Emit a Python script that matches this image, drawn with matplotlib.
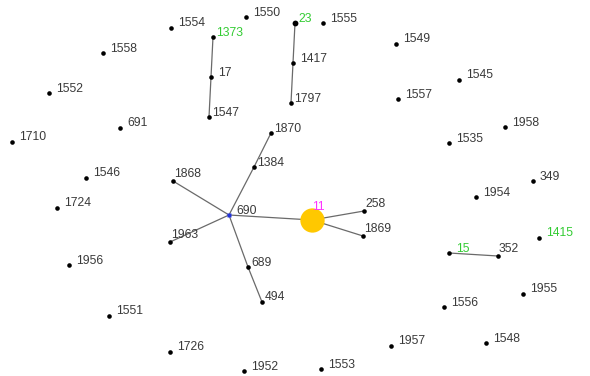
import matplotlib.pyplot as plt

# node layout (x, y in screen units, y grows downward)
nodes = ['1554', '1550', '1555', '1558', '1552', '691', '1710', '1546', '1724', '1956',
         '1551', '1726', '1952', '1553', '1957', '1548', '1556', '1955', '1415', '1954',
         '349', '1958', '1535', '1545', '1557', '1549',
         '1373', '17', '1547', '23', '1417', '1797',
         '690', '1868', '1963', '1384', '1870', '689', '494', '11', '258', '1869',
         '15', '352']
node_x = [171, 246, 323, 103, 49, 120, 12, 86, 57, 69,
          109, 170, 244, 321, 391, 486, 444, 523, 539, 476,
          533, 505, 449, 459, 398, 396,
          213, 211, 209, 295, 293, 291,
          229, 173, 170, 254, 271, 248, 262, 312, 364, 363,
          449, 498]
node_y = [28, 17, 23, 53, 93, 128, 142, 178, 208, 265,
          316, 352, 371, 369, 346, 343, 307, 294, 238, 197,
          181, 127, 143, 80, 99, 44,
          37, 77, 117, 23, 63, 103,
          215, 181, 242, 167, 133, 267, 302, 220, 211, 236,
          253, 256]

edges = [('1373', '17'), ('17', '1547'),
         ('23', '1417'), ('1417', '1797'),
         ('690', '1868'), ('690', '1963'), ('690', '1384'), ('1384', '1870'),
         ('690', '689'), ('689', '494'), ('690', '11'),
         ('11', '258'), ('11', '1869'),
         ('15', '352')]

green_labels = ['1373', '23', '15', '1415']
near_labels = ['1547', '1797', '1870', '1384', '689', '494', '1373', '23']
raised_labels = ['1868', '1963', '258', '1869', '352']

pos = {n: (x, y) for n, x, y in zip(nodes, node_x, node_y)}

fig = plt.figure(figsize=(5.9, 3.76), dpi=100)
ax = fig.add_axes([0, 0, 1, 1])
ax.set_xlim(0, 590)
ax.set_ylim(376, 0)
ax.axis('off')

for a, b in edges:
    ax.plot([pos[a][0], pos[b][0]], [pos[a][1], pos[b][1]], '-', color='#6a6a6a', lw=0.9, zorder=1)

for n in nodes:
    x, y = pos[n]
    if n == '11':
        ax.plot(x, y, 'o', ms=17.5, color='#ffc800', mec='none', zorder=3)
        ax.text(x + 6, y - 13, n, fontsize=8.7, color='#ff33ff', family='Liberation Sans',
                va='center', ha='center', zorder=4)
        continue
    if n == '690':
        ax.plot(x, y, 's', ms=2.6, color='#2233dd', mec='none', zorder=3)
    elif n == '23':
        ax.plot(x, y, 'o', ms=4.2, color='black', mec='none', zorder=3)
    else:
        ax.plot(x, y, 'o', ms=3.3, color='black', mec='none', zorder=3)

    if n in near_labels:
        dx, dy = 3, -4.5
    elif n in raised_labels:
        dx, dy = 1, -7
    else:
        dx, dy = 7, -4.5
    color = '#33cc33' if n in green_labels else '#3a3a3a'
    ax.text(x + dx, y + dy, n, fontsize=8.7, color=color, family='Liberation Sans',
            ha='left', va='center', zorder=4)

plt.savefig('out.png', dpi=100, facecolor='white')
plt.close('all')
